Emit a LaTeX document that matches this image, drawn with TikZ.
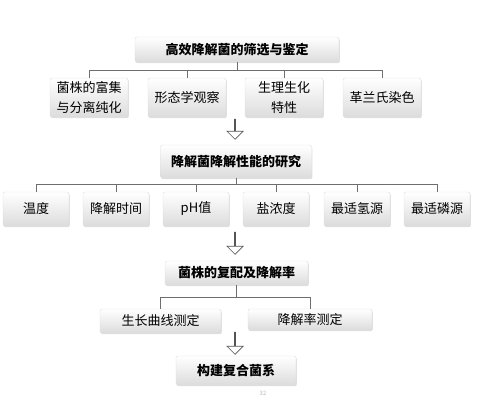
\documentclass[tikz,border=0pt]{standalone}
\usepackage{fontspec}
\newfontfamily\cjk{Noto Sans CJK SC}
\usetikzlibrary{positioning,shapes.arrows,shadows}
\definecolor{linkgray}{RGB}{110,110,110}
\definecolor{boxbottom}{RGB}{220,220,220}
\definecolor{boxedge}{RGB}{222,222,222}
\definecolor{arrowgray}{RGB}{85,85,85}
\definecolor{pagegray}{RGB}{185,185,185}

\begin{document}
\begin{tikzpicture}[
  x=1pt, y=-1pt,
  stage/.style={rounded corners=2pt, draw=boxedge, line width=0.4pt,
                top color=white, bottom color=boxbottom,
                drop shadow={opacity=0.25, shadow xshift=0.8pt, shadow yshift=-1.2pt},
                inner sep=0pt, font=\cjk\bfseries\fontsize{13}{15}\selectfont},
  item/.style={rounded corners=2pt, draw=boxedge, line width=0.4pt,
               top color=white, bottom color=boxbottom,
               drop shadow={opacity=0.25, shadow xshift=0.8pt, shadow yshift=-1.2pt},
               inner sep=0pt, align=center, font=\cjk\fontsize{13}{20}\selectfont},
  link/.style={draw=linkgray, line width=0.8pt},
  flow/.style={single arrow, draw=arrowgray, fill=white, line width=0.7pt,
               shape border rotate=270, minimum width=16pt,
               single arrow head extend=5.2pt, inner sep=0pt},
]

% page frame
\useasboundingbox (0,0) rectangle (478,404);

% first stage
\node[stage, minimum width=204pt, minimum height=25pt] (screen) at (237,49.5)
  {高效降解菌的筛选与鉴定};
\node[item, minimum width=78pt, minimum height=39pt] (enrich) at (89,97.5)
  {菌株的富集\\与分离纯化};
\node[item, minimum width=78pt, minimum height=39pt] (morph) at (187,97.5)
  {形态学观察};
\node[item, minimum width=78pt, minimum height=39pt] (physio) at (284,97.5)
  {生理生化\\特性};
\node[item, minimum width=78pt, minimum height=39pt] (gram) at (382,97.5)
  {革兰氏染色};

\draw[link] (screen.south) -- ++(0,8) -| (enrich.north);
\draw[link] (screen.south) -- ++(0,8) -| (morph.north);
\draw[link] (screen.south) -- ++(0,8) -| (physio.north);
\draw[link] (screen.south) -- ++(0,8) -| (gram.north);

\node[flow, minimum height=20pt] (arrA) at (235,129) {};

% second stage
\node[stage, minimum width=151pt, minimum height=33pt] (perf) at (236,161.5)
  {降解菌降解性能的研究};
\node[item, minimum width=66pt, minimum height=34pt] (temp) at (36,209) {温度};
\node[item, minimum width=66pt, minimum height=34pt] (time) at (116,209) {降解时间};
\node[item, minimum width=66pt, minimum height=34pt] (ph) at (196,209) {pH值};
\node[item, minimum width=66pt, minimum height=34pt] (salt) at (276,209) {盐浓度};
\node[item, minimum width=66pt, minimum height=34pt] (nsrc) at (357,209) {最适氢源};
\node[item, minimum width=66pt, minimum height=34pt] (psrc) at (437,209) {最适磷源};

\draw[link] (perf.south) -- ++(0,6) -| (temp.north);
\draw[link] (perf.south) -- ++(0,6) -| (time.north);
\draw[link] (perf.south) -- ++(0,6) -| (ph.north);
\draw[link] (perf.south) -- ++(0,6) -| (salt.north);
\draw[link] (perf.south) -- ++(0,6) -| (nsrc.north);
\draw[link] (perf.south) -- ++(0,6) -| (psrc.north);

\node[flow, minimum height=22pt] (arrB) at (235,243) {};

% third stage
\node[stage, minimum width=143pt, minimum height=24pt] (mix) at (236.5,273)
  {菌株的复配及降解率};
\node[item, minimum width=121pt, minimum height=24pt] (growth) at (160.5,321)
  {生长曲线测定};
\node[item, minimum width=124pt, minimum height=21pt] (rate) at (310,319.5)
  {降解率测定};

\draw[link] (mix.south) -- ++(0,12) -| (growth.north);
\draw[link] (mix.south) -- ++(0,12) -| (rate.north);

\node[flow, minimum height=22pt] (arrC) at (235,343) {};

% final stage
\node[stage, minimum width=120pt, minimum height=29pt] (consort) at (236,370.5)
  {构建复合菌系};

% page number
\node[font=\cjk\fontsize{6}{7}\selectfont, text=pagegray] (pageno) at (263,393) {32};

\end{tikzpicture}
\end{document}
